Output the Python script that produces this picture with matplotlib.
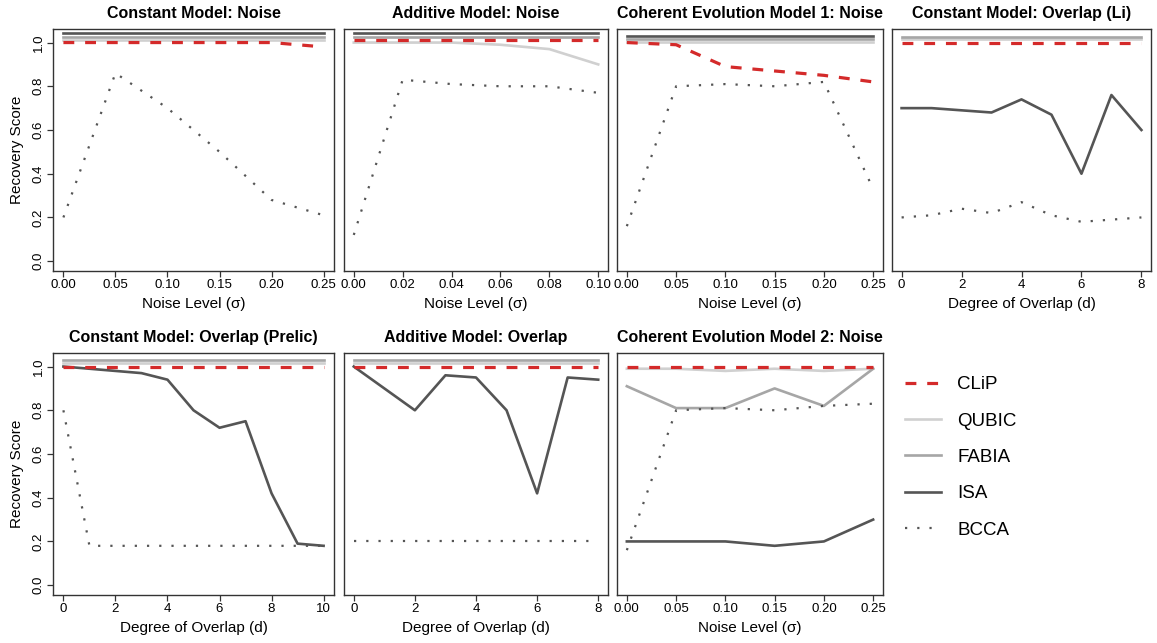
import matplotlib
matplotlib.use("Agg")
import matplotlib.pyplot as plt
from matplotlib.lines import Line2D

plt.rcParams['font.family'] = ['Liberation Sans', 'DejaVu Sans']

# x values
noise_x = [0.00, 0.05, 0.10, 0.15, 0.20, 0.25]
noise_add_x = [0.00, 0.02, 0.04, 0.06, 0.08, 0.10]
overlap_li_x = [0, 1, 2, 3, 4, 5, 6, 7, 8]
overlap_prelic_x = [0, 1, 2, 3, 4, 5, 6, 7, 8, 9, 10]
overlap_add_x = [0, 1, 2, 3, 4, 5, 6, 7, 8]

# Constant Model: Noise
cn_clip = [1.00, 1.00, 1.00, 1.00, 1.00, 0.98]
cn_qubic = [1.013, 1.013, 1.013, 1.013, 1.013, 1.013]
cn_fabia = [1.027, 1.027, 1.027, 1.027, 1.027, 1.027]
cn_isa = [1.042, 1.042, 1.042, 1.042, 1.042, 1.042]
cn_bcca = [0.20, 0.86, 0.70, 0.50, 0.28, 0.21]

# Additive Model: Noise
an_clip = [1.012, 1.012, 1.012, 1.012, 1.012, 1.012]
an_qubic = [1.00, 1.00, 1.00, 0.99, 0.97, 0.90]
an_fabia = [1.027, 1.027, 1.027, 1.027, 1.027, 1.027]
an_isa = [1.042, 1.042, 1.042, 1.042, 1.042, 1.042]
an_bcca = [0.12, 0.83, 0.81, 0.80, 0.80, 0.77]

# Coherent Evolution Model 1: Noise
ce1_clip = [1.00, 0.99, 0.89, 0.87, 0.85, 0.82]
ce1_qubic = [1.004, 1.004, 1.004, 1.004, 1.004, 1.004]
ce1_fabia = [1.016, 1.016, 1.016, 1.016, 1.016, 1.016]
ce1_isa = [1.030, 1.030, 1.030, 1.030, 1.030, 1.030]
ce1_bcca = [0.16, 0.80, 0.81, 0.80, 0.82, 0.33]

# Constant Model: Overlap (Li)
li_clip = [1.00, 1.00, 1.00, 1.00, 1.00, 1.00, 1.00, 1.00, 1.00]
li_qubic = [1.015, 1.015, 1.015, 1.015, 1.015, 1.015, 1.015, 1.015, 1.015]
li_fabia = [1.027, 1.027, 1.027, 1.027, 1.027, 1.027, 1.027, 1.027, 1.027]
li_isa = [0.70, 0.70, 0.69, 0.68, 0.74, 0.67, 0.40, 0.76, 0.60]
li_bcca = [0.20, 0.21, 0.24, 0.22, 0.27, 0.21, 0.18, 0.19, 0.20]

# Constant Model: Overlap (Prelic)
pr_clip = [1.00, 1.00, 1.00, 1.00, 1.00, 1.00, 1.00, 1.00, 1.00, 1.00, 1.00]
pr_qubic = [1.017, 1.017, 1.017, 1.017, 1.017, 1.017, 1.017, 1.017, 1.017, 1.017, 1.017]
pr_fabia = [1.029, 1.029, 1.029, 1.029, 1.029, 1.029, 1.029, 1.029, 1.029, 1.029, 1.029]
pr_isa = [1.00, 0.99, 0.98, 0.97, 0.94, 0.80, 0.72, 0.75, 0.42, 0.19, 0.18]
pr_bcca = [0.80, 0.18, 0.18, 0.18, 0.18, 0.18, 0.18, 0.18, 0.18, 0.18, 0.18]

# Additive Model: Overlap
ao_clip = [1.00, 1.00, 1.00, 1.00, 1.00, 1.00, 1.00, 1.00, 1.00]
ao_qubic = [1.017, 1.017, 1.017, 1.017, 1.017, 1.017, 1.017, 1.017, 1.017]
ao_fabia = [1.029, 1.029, 1.029, 1.029, 1.029, 1.029, 1.029, 1.029, 1.029]
ao_isa = [1.00, 0.90, 0.80, 0.96, 0.95, 0.80, 0.42, 0.95, 0.94]
ao_bcca = [0.20, 0.20, 0.20, 0.20, 0.20, 0.20, 0.20, 0.20, 0.20]

# Coherent Evolution Model 2: Noise
ce2_clip = [1.00, 1.00, 1.00, 1.00, 1.00, 1.00]
ce2_qubic = [0.99, 0.99, 0.98, 0.99, 0.98, 0.99]
ce2_fabia = [0.91, 0.81, 0.81, 0.90, 0.82, 0.99]
ce2_isa = [0.20, 0.20, 0.20, 0.18, 0.20, 0.30]
ce2_bcca = [0.16, 0.80, 0.81, 0.80, 0.82, 0.83]

methods = ["CLiP", "QUBIC", "FABIA", "ISA", "BCCA"]
styles = {
    "CLiP": dict(color="#d42a2a", lw=2.3, dashes=(3.4, 3.4)),
    "QUBIC": dict(color="#d0d0d0", lw=1.9),
    "FABIA": dict(color="#a6a6a6", lw=1.9),
    "ISA": dict(color="#555555", lw=1.9),
    "BCCA": dict(color="#555555", lw=1.6, dashes=(1, 4.5)),
}

panels = [
    ("Constant Model: Noise", noise_x, [cn_clip, cn_qubic, cn_fabia, cn_isa, cn_bcca],
     (53, 29, 334, 271), "Noise Level (σ)", noise_x, ["0.00", "0.05", "0.10", "0.15", "0.20", "0.25"], True),
    ("Additive Model: Noise", noise_add_x, [an_clip, an_qubic, an_fabia, an_isa, an_bcca],
     (344, 29, 608, 271), "Noise Level (σ)", noise_add_x, ["0.00", "0.02", "0.04", "0.06", "0.08", "0.10"], False),
    ("Coherent Evolution Model 1: Noise", noise_x, [ce1_clip, ce1_qubic, ce1_fabia, ce1_isa, ce1_bcca],
     (617, 29, 883, 271), "Noise Level (σ)", noise_x, ["0.00", "0.05", "0.10", "0.15", "0.20", "0.25"], False),
    ("Constant Model: Overlap (Li)", overlap_li_x, [li_clip, li_qubic, li_fabia, li_isa, li_bcca],
     (892, 29, 1151, 271), "Degree of Overlap (d)", [0, 2, 4, 6, 8], ["0", "2", "4", "6", "8"], False),
    ("Constant Model: Overlap (Prelic)", overlap_prelic_x, [pr_clip, pr_qubic, pr_fabia, pr_isa, pr_bcca],
     (53, 353, 334, 595), "Degree of Overlap (d)", [0, 2, 4, 6, 8, 10], ["0", "2", "4", "6", "8", "10"], True),
    ("Additive Model: Overlap", overlap_add_x, [ao_clip, ao_qubic, ao_fabia, ao_isa, ao_bcca],
     (344, 353, 608, 595), "Degree of Overlap (d)", [0, 2, 4, 6, 8], ["0", "2", "4", "6", "8"], False),
    ("Coherent Evolution Model 2: Noise", noise_x, [ce2_clip, ce2_qubic, ce2_fabia, ce2_isa, ce2_bcca],
     (617, 353, 883, 595), "Noise Level (σ)", noise_x, ["0.00", "0.05", "0.10", "0.15", "0.20", "0.25"], False),
]

W, H = 1157, 643
fig = plt.figure(figsize=(W / 100, H / 100), dpi=100)

draw_order = ["QUBIC", "FABIA", "ISA", "BCCA", "CLiP"]

for title, x, series, box, xlabel, xt, xtl, left in panels:
    x0, y0, x1, y1 = box
    ax = fig.add_axes([x0 / W, 1 - y1 / H, (x1 - x0) / W, (y1 - y0) / H])
    data = dict(zip(methods, series))
    for m in draw_order:
        ax.plot(x, data[m], **styles[m])
    span = x[-1] - x[0]
    ax.set_xlim(x[0] - 0.04 * span, x[-1] + 0.04 * span)
    ax.set_ylim(-0.045, 1.062)
    ax.set_xticks(xt)
    ax.set_xticklabels(xtl)
    ax.set_title(title, fontsize=11.5, fontweight="bold", pad=8)
    ax.set_xlabel(xlabel, fontsize=11, labelpad=4)
    ax.tick_params(axis="x", length=4, width=0.9, color="#333333", labelsize=9.5, pad=2)
    if left:
        ax.set_yticks([0.0, 0.2, 0.4, 0.6, 0.8, 1.0])
        ax.set_yticklabels(["0.0", "0.2", "0.4", "0.6", "0.8", "1.0"], rotation=90, va="center")
        ax.tick_params(axis="y", length=4, width=0.9, color="#333333", labelsize=9.5, pad=2)
        ax.set_ylabel("Recovery Score", fontsize=11, labelpad=6)
    else:
        ax.set_yticks([])
    for s in ax.spines.values():
        s.set_color("#333333")
        s.set_linewidth(1.0)

handles = [Line2D([], [], **styles[m]) for m in methods]
fig.legend(handles, methods, loc="upper left", bbox_to_anchor=(905 / W, 1 - 376 / H),
           frameon=False, fontsize=13.5, handlelength=1.9, handletextpad=0.9,
           labelspacing=1.03, borderpad=0, borderaxespad=0)

plt.savefig("out.png", dpi=100)
